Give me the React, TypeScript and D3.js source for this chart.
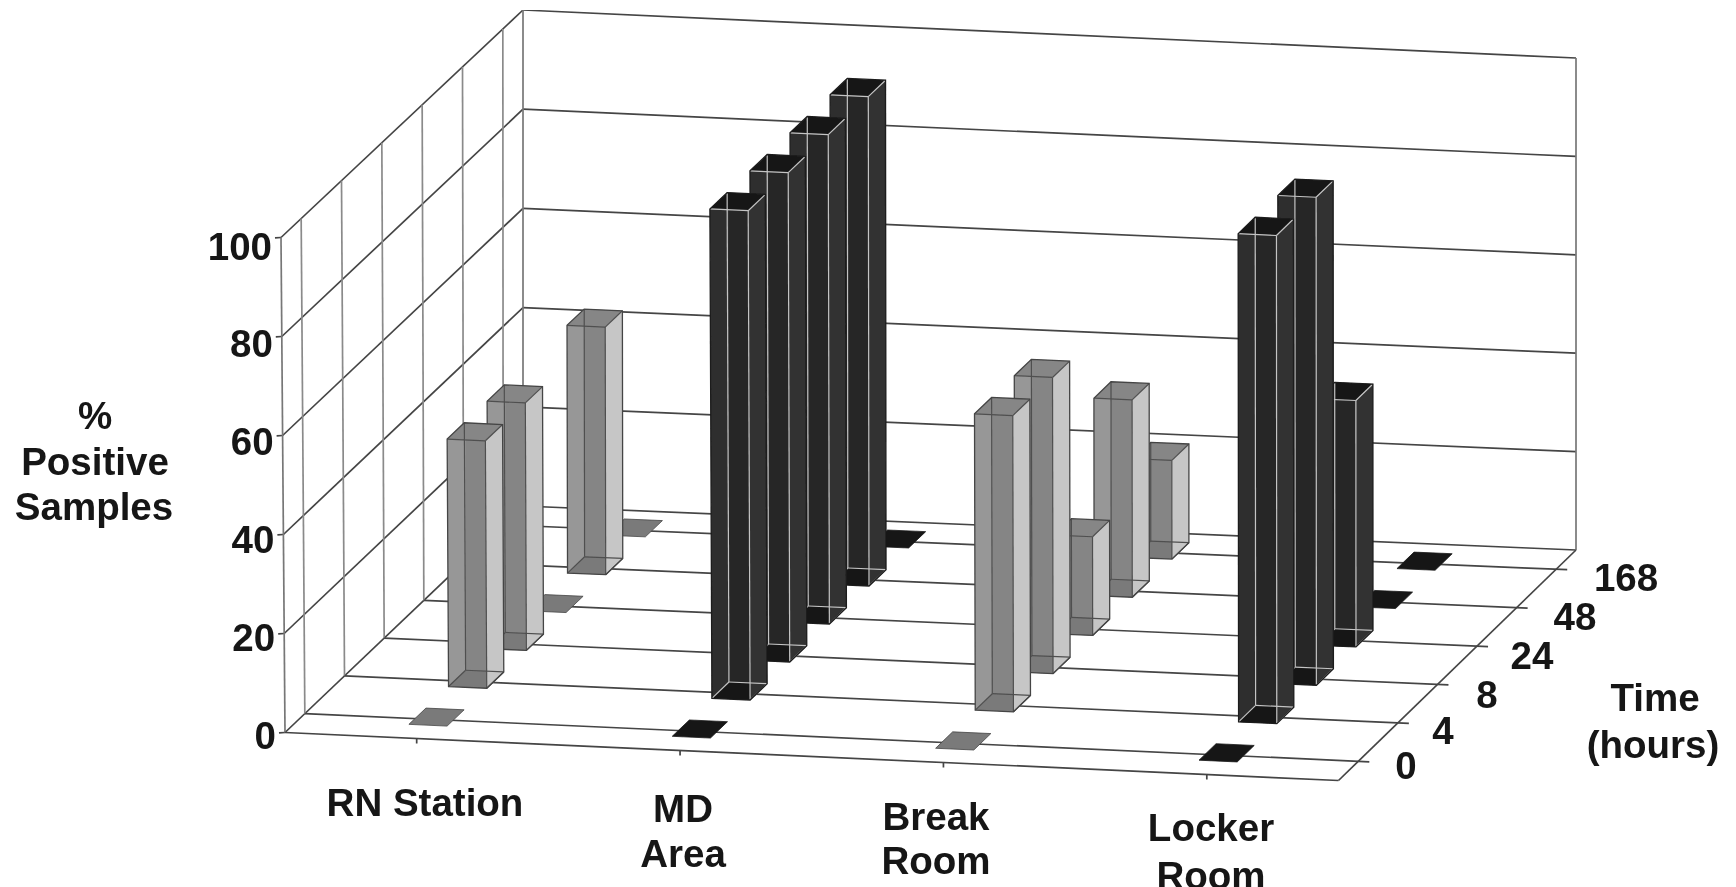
import React from "react";
import * as d3 from "d3";

const categories = ["RN Station", "MD Area", "Break Room", "Locker Room"];
const times = ["0", "4", "8", "24", "48", "168"];
const valueTicks = [0, 20, 40, 60, 80, 100];

const rnStation = [0, 50, 50, 0, 50, 0];
const mdArea = [0, 99, 99, 99, 99, 0];
const breakRoom = [0, 60, 60, 20, 40, 20];
const lockerRoom = [0, 99, 99, 50, 0, 0];
const seriesByCategory = [rnStation, mdArea, breakRoom, lockerRoom];
const darkCategory = [false, true, false, true];

const categoryLabels = [
  { lines: ["RN Station"], x: 425, y: [816] },
  { lines: ["MD", "Area"], x: 683, y: [822, 867] },
  { lines: ["Break", "Room"], x: 936, y: [830, 874] },
  { lines: ["Locker", "Room"], x: 1211, y: [841, 889] },
];
const timeLabelX = [1406, 1443, 1487, 1532, 1575, 1626];
const timeLabelY = [779, 744, 708, 669, 630, 591];

const W = 1736;
const H = 887;
const FL: [number, number] = [285, 732.5];
const FR: [number, number] = [1338.5, 780.5];
const BR: [number, number] = [1576, 550];
const BL: [number, number] = [523, 506];
const heights = { fl: 495, fr: 493, br: 492, bl: 496 };

const uScale = d3.scaleBand<string>().domain(categories).range([0, 1]);
const vScale = d3.scaleBand<string>().domain(times).range([0, 1]);
const hScale = d3.scaleLinear().domain([0, 100]).range([0, 1]);

function project(u: number, v: number, value: number): [number, number] {
  const a = (1 - u) * (1 - v), b = u * (1 - v), c = u * v, d = (1 - u) * v;
  const x = a * FL[0] + b * FR[0] + c * BR[0] + d * BL[0];
  const y = a * FL[1] + b * FR[1] + c * BR[1] + d * BL[1];
  const h = a * heights.fl + b * heights.fr + c * heights.br + d * heights.bl;
  const t = hScale(value);
  return [x - 4 * a * t, y - h * t];
}

const poly = (pts: [number, number][]) => (d3.line()(pts) as string) + "Z";
const seg = (a: [number, number], b: [number, number]) => d3.line()([a, b]) as string;

const GRID = "#444444";
const barW = 0.145 / 4;
const barD = 0.43 / 6;
const barLift = -2.5;

const GRAY = { front: "#979797", inner: "#858585", right: "#c6c6c6", top: "#868686", bottom: "#7a7a7a", edge: "#454545", wire: "#4f4f4f" };
const DARK = { front: "#2f2f2f", inner: "#262626", right: "#303030", top: "#171717", bottom: "#151515", edge: "#1c1c1c", wire: "#c4c4c4" };

function Bar({ u, v, value, dark }: { u: number; v: number; value: number; dark: boolean }) {
  const c = dark ? DARK : GRAY;
  const u0 = u - barW / 2, u1 = u + barW / 2, v0 = v - barD / 2, v1 = v + barD / 2;
  const A = project(u0, v0, 0), B = project(u1, v0, 0), C = project(u1, v1, 0), D = project(u0, v1, 0);
  if (value === 0) {
    return (
      <g transform={`translate(0,${barLift})`}>
        <path d={poly([A, B, C, D])} fill={c.bottom} stroke={c.edge} strokeWidth={0.8} />
      </g>
    );
  }
  const At = project(u0, v0, value), Bt = project(u1, v0, value), Ct = project(u1, v1, value), Dt = project(u0, v1, value);
  const e = { stroke: c.edge, strokeWidth: 1.3, fill: "none" };
  const w = { stroke: c.wire, strokeWidth: 1.2, fill: "none" };
  return (
    <g transform={`translate(0,${barLift})`}>
      <path d={poly([A, B, Bt, At])} fill={c.front} />
      <path d={poly([[D[0], At[1]], [B[0], Bt[1]], [B[0], C[1]], [D[0], D[1]]])} fill={c.inner} />
      <path d={poly([A, B, C, D])} fill={c.bottom} />
      <path d={poly([B, C, Ct, Bt])} fill={c.right} />
      <path d={poly([At, Bt, Ct, Dt])} fill={c.top} />
      <path d={seg(Dt, D)} {...w} />
      <path d={seg(D, C)} {...w} />
      <path d={seg(D, A)} {...w} />
      <path d={seg(At, Bt)} {...w} />
      <path d={seg(Bt, Ct)} {...w} />
      <path d={seg(Bt, B)} {...w} />
      <path d={seg(B, C)} {...w} />
      <path d={poly([A, B, C, Ct, Dt, At])} {...e} />
    </g>
  );
}

const font = { fontFamily: "'Liberation Sans', Arial, sans-serif", fontWeight: 700, fontSize: 38.5, fill: "#141414" };

export default function App() {
  const bars = times
    .map((t, j) => ({ t, j }))
    .reverse()
    .flatMap(({ t, j }) =>
      categories.map((cat, i) => ({
        key: `${cat}-${t}`,
        u: (uScale(cat) as number) + uScale.bandwidth() / 2,
        v: (vScale(t) as number) + vScale.bandwidth() / 2,
        value: seriesByCategory[i][j],
        dark: darkCategory[i],
      }))
    );

  return (
    <svg width={W} height={H} style={{ position: "fixed", left: 0, top: 0, display: "block", background: "#fff" }}>
      <defs>
        <filter id="scan" x="0" y="0" width="100%" height="100%">
          <feGaussianBlur stdDeviation="0.6" />
        </filter>
      </defs>
      <g filter="url(#scan)">
        <g stroke={GRID} strokeWidth={1.7} fill="none">
          {valueTicks.map((val) => (
            <g key={val}>
              <path d={seg(project(0, 0, val), project(0, 1, val))} />
              <path d={seg(project(0, 1, val), project(1, 1, val))} />
              <path d={seg([project(0, 0, val)[0] - 6, project(0, 0, val)[1] + 0.3], project(0, 0, val))} />
            </g>
          ))}
          <path d={seg(project(0, 0, 0), project(0, 0, 100))} stroke="#777" />
          <path d={seg(project(0, 1, 0), project(0, 1, 100))} stroke="#777" />
          <path d={seg(project(1, 1, 0), project(1, 1, 100))} stroke="#777" />
          {times.map((t) => {
            const v = (vScale(t) as number) + vScale.bandwidth() / 2;
            const end = project(1, v, 0);
            return (
              <g key={t}>
                <path d={seg(project(0, v, 0), project(0, v, 100))} stroke="#8a8a8a" />
                <path d={seg(project(0, v, 0), [end[0] + 11, end[1] + 0.5])} />
              </g>
            );
          })}
          <path d={seg(project(0, 0, 0), project(1, 0, 0))} />
          <path d={seg(project(1, 0, 0), project(1, 1, 0))} />
          {categories.map((cat) => {
            const u = (uScale(cat) as number) + uScale.bandwidth() / 2;
            const p = project(u, 0, 0);
            return <path key={cat} d={seg(p, [p[0], p[1] + 5])} />;
          })}
        </g>

        {bars.map((b) => (
          <Bar key={b.key} u={b.u} v={b.v} value={b.value} dark={b.dark} />
        ))}

        <g {...font}>
          {valueTicks.map((val) => {
            const p = project(0, 0, val);
            return (
              <text key={val} x={p[0] - 9} y={p[1] + 16 + 0.06 * val} textAnchor="end">
                {val}
              </text>
            );
          })}
          {times.map((t, j) => (
            <text key={t} x={timeLabelX[j]} y={timeLabelY[j]} textAnchor="middle">
              {t}
            </text>
          ))}
          {categoryLabels.map((c) =>
            c.lines.map((line, k) => (
              <text key={line + c.x} x={c.x} y={c.y[k]} textAnchor="middle">
                {line}
              </text>
            ))
          )}
          <g textAnchor="middle">
            <text x={95} y={429}>%</text>
            <text x={95} y={475}>Positive</text>
            <text x={94} y={520}>Samples</text>
            <text x={1655} y={711}>Time</text>
            <text x={1653} y={758}>(hours)</text>
          </g>
        </g>
      </g>
    </svg>
  );
}
